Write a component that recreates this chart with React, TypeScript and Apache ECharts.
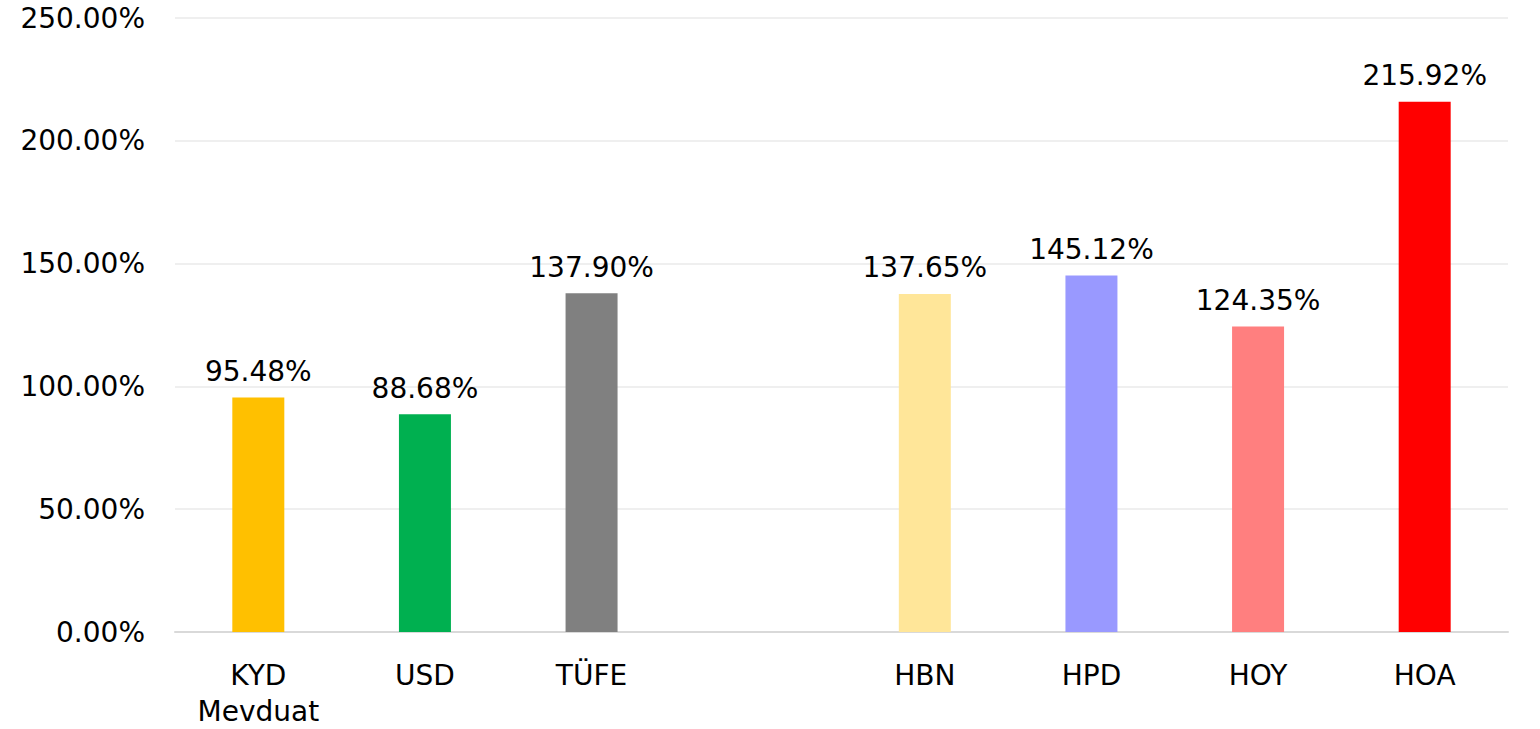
import React, { useEffect, useRef } from "react";
import * as echarts from "echarts";

const categories = ["KYD\nMevduat", "USD", "TÜFE", "", "HBN", "HPD", "HOY", "HOA"];
const values: (number | null)[] = [95.48, 88.68, 137.9, null, 137.65, 145.12, 124.35, 215.92];
const colors = ["#FFC000", "#00B050", "#808080", "#FFFFFF", "#FFE699", "#9999FF", "#FF7F7F", "#FF0000"];
const yTicks = { min: 0, max: 250, interval: 50 };

const FONT = "DejaVu Sans";

export default function App() {
  const ref = useRef<HTMLDivElement>(null);
  useEffect(() => {
    if (!ref.current) return;
    const chart = echarts.init(ref.current, null, { renderer: "svg" });
    chart.setOption({
      animation: false,
      backgroundColor: "#ffffff",
      grid: { left: 175, right: 32, top: 18, bottom: 94, containLabel: false },
      xAxis: {
        type: "category",
        data: categories,
        axisLine: { show: true, lineStyle: { color: "#d9d9d9", width: 2 } },
        axisTick: { show: false },
        axisLabel: {
          color: "#000",
          fontFamily: FONT,
          fontSize: 28,
          lineHeight: 36,
          margin: 25,
          interval: 0,
        },
      },
      yAxis: {
        type: "value",
        min: yTicks.min,
        max: yTicks.max,
        interval: yTicks.interval,
        axisLine: { show: false },
        axisTick: { show: false },
        splitLine: { lineStyle: { color: "#efefef", width: 2 } },
        axisLabel: {
          color: "#000",
          fontFamily: FONT,
          fontSize: 28,
          margin: 30,
          formatter: (v: number) => v.toFixed(2) + "%",
        },
      },
      series: [
        {
          type: "bar",
          barWidth: 52,
          data: values.map((v, i) => ({
            value: v,
            itemStyle: { color: colors[i] },
          })),
          label: {
            show: true,
            position: "top",
            distance: 12,
            color: "#000",
            fontFamily: FONT,
            fontSize: 28,
            formatter: (p: any) => (p.value == null ? "" : Number(p.value).toFixed(2) + "%"),
          },
        },
      ],
    });
    return () => chart.dispose();
  }, []);
  return (
    <div
      ref={ref}
      style={{ position: "fixed", left: 0, top: 0, width: 1540, height: 729, background: "#fff" }}
    />
  );
}
